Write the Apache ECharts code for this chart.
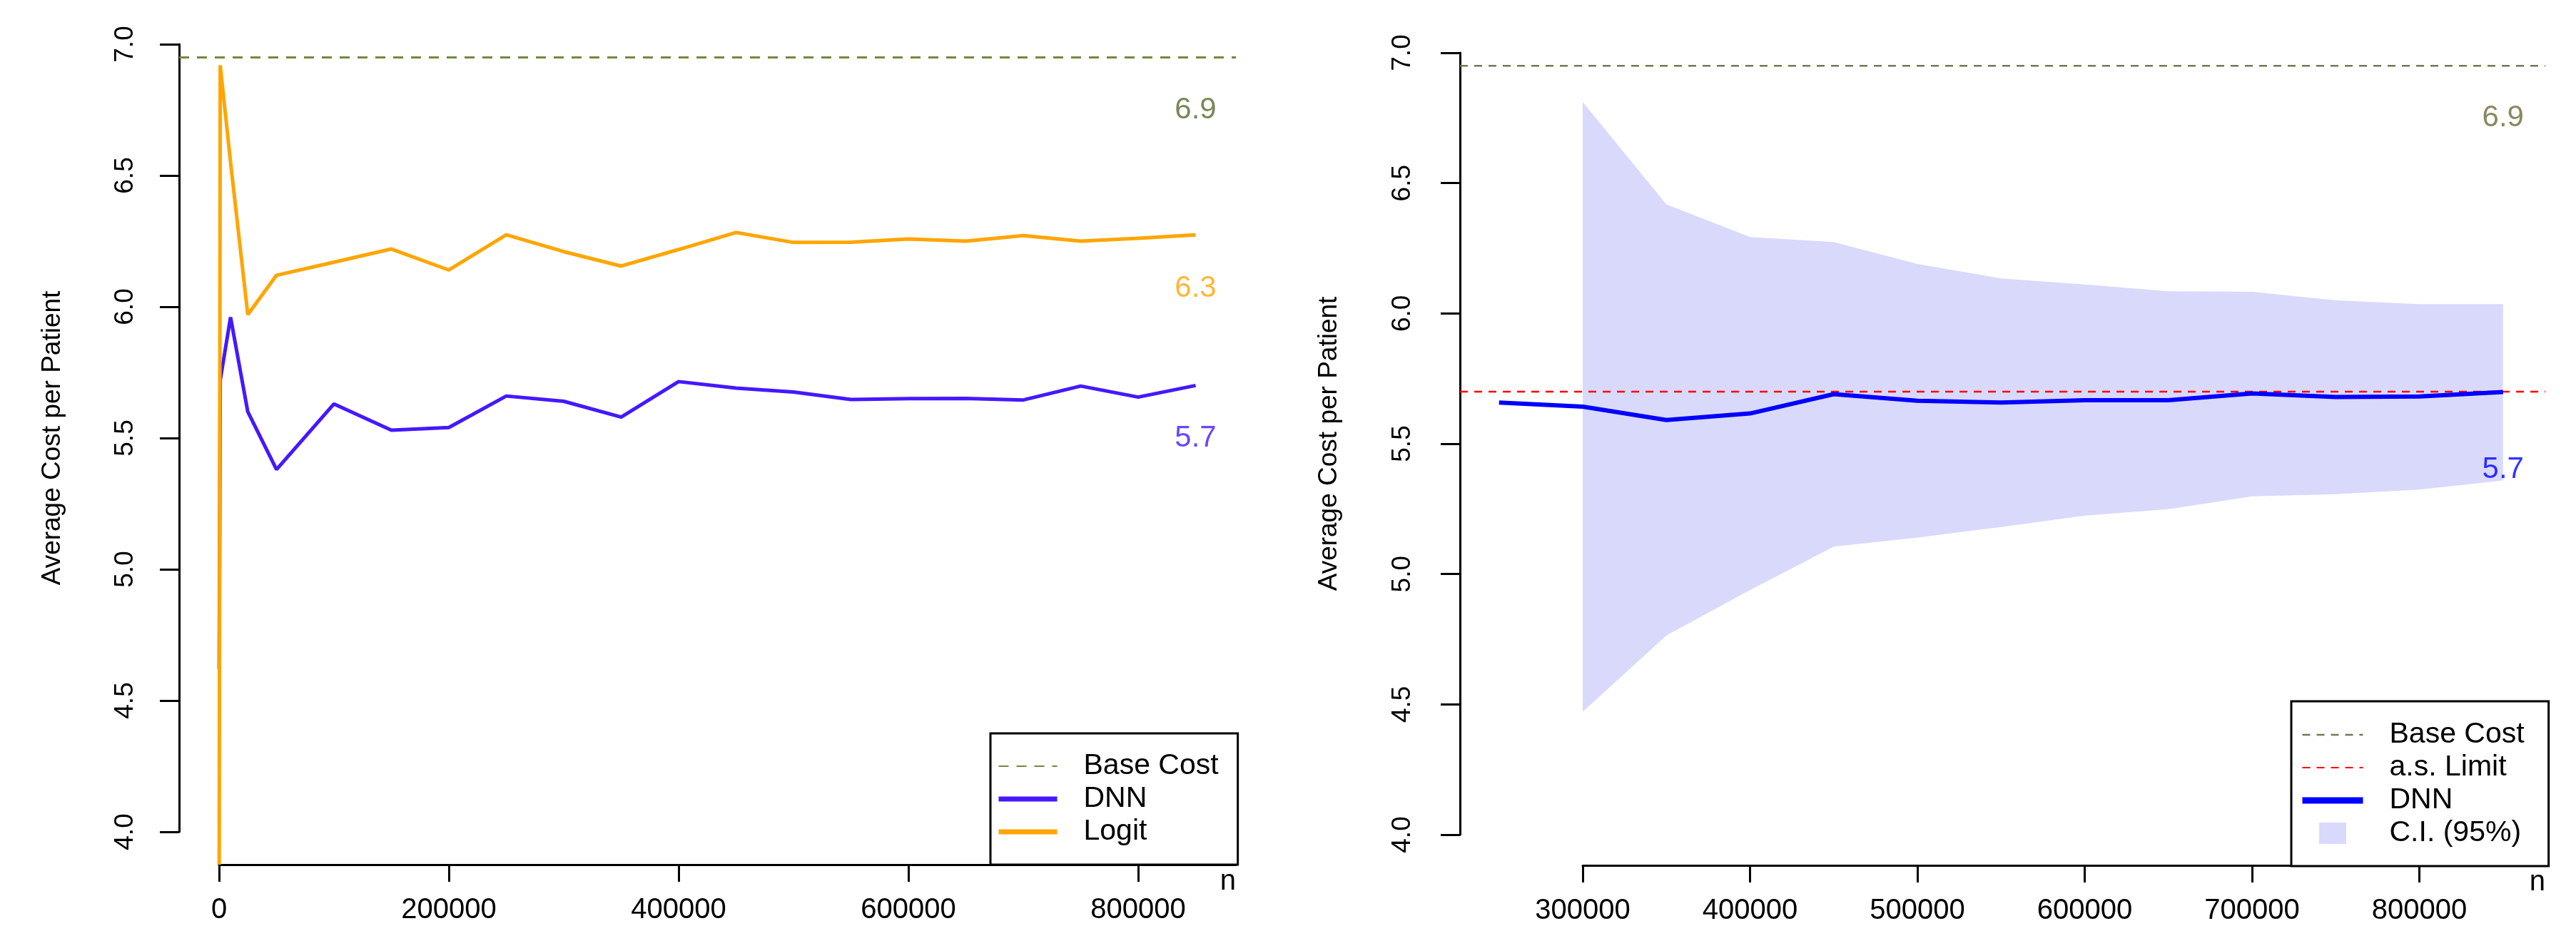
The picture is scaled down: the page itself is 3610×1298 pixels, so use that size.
<!DOCTYPE html>
<html>
<head>
<meta charset="utf-8">
<script src="https://cdn.jsdelivr.net/npm/echarts@6/dist/echarts.min.js"></script>
<style>
  html, body { margin: 0; padding: 0; background: #fff; }
  #main { width: 3610px; height: 1298px; }
</style>
</head>
<body>
<div id="main"></div>
<script>
// left panel: running average cost per patient, DNN vs Logit
var nLeft = [100, 1000, 10000, 25000, 50000, 100000, 150000, 200000, 250000, 300000, 350000,
  400000, 450000, 500000, 550000, 600000, 650000, 700000, 750000, 800000, 850000]
var dnnLeft = [4.62, 5.72, 5.96, 5.60, 5.38, 5.63, 5.53, 5.54, 5.66, 5.64, 5.58,
  5.715, 5.69, 5.675, 5.647, 5.65, 5.651, 5.645, 5.698, 5.656, 5.70]
var logitLeft = [3.875, 6.92, 6.55, 5.97, 6.12, 6.17, 6.22, 6.14, 6.274, 6.21, 6.155,
  6.218, 6.283, 6.245, 6.246, 6.258, 6.25, 6.271, 6.25, 6.261, 6.274]

// right panel: DNN with 95% confidence band
var nRight = [250000, 300000, 350000, 400000, 450000, 500000, 550000, 600000, 650000,
  700000, 750000, 800000, 850000]
var dnnRight = [5.658, 5.642, 5.591, 5.616, 5.690, 5.665, 5.658, 5.667, 5.667, 5.693, 5.679, 5.681, 5.698]
var nBand = [300000, 350000, 400000, 450000, 500000, 550000, 600000, 650000, 700000, 750000, 800000, 850000]
var ciUpper = [6.811, 6.418, 6.293, 6.274, 6.190, 6.134, 6.111, 6.085, 6.083, 6.050, 6.036, 6.036]
var ciLower = [4.471, 4.764, 4.939, 5.105, 5.140, 5.180, 5.224, 5.249, 5.298, 5.306, 5.324, 5.359]

var baseCost = 6.95
var asLimit = 5.70

var xTicksLeft = [0, 200000, 400000, 600000, 800000]
var xTicksRight = [300000, 400000, 500000, 600000, 700000, 800000]

// value annotations near the right end of each panel
var noteN = 850000
var noteTextLeft = ['6.9', '6.3', '5.7']
var noteYLeft = [6.75, 6.07, 5.50]
var noteTextRight = ['6.9', '5.7']
var noteYRight = [6.75, 5.40]

// axis extents of the plotting regions (R-style extended ranges)
var lxMin = -34783, lxMax = 885093, lyMin = 3.875
var rxMin = 226652, rxMax = 875267, ryMin = 3.882

var FONT = "'Liberation Sans', Arial, Helvetica, sans-serif"
var cLeftDnn = '#4518ff'
var cOrange = '#ffa500'
var cBaseL = '#6e8b3d'
var cBaseR = '#6f7a55'
var cBand = '#d9d9fc'

function pairs(xs, ys) {
  return xs.map(function (x, i) { return [x, ys[i]] })
}

var hiddenAxis = function (grid, min, max) {
  return { gridIndex: grid, type: 'value', show: false, min: min, max: max }
}

var yAxisVisible = function (grid, margin, gap) {
  return {
    gridIndex: grid, type: 'value', min: 4, max: 7, interval: 0.5, position: 'left',
    axisLine: { show: true, lineStyle: { color: '#000', width: 3 } },
    axisTick: { show: true, length: 27, lineStyle: { color: '#000', width: 3 } },
    axisLabel: { rotate: 90, margin: margin, fontSize: 37, color: '#000', fontFamily: FONT,
      formatter: function (v) { return v.toFixed(1) } },
    splitLine: { show: false },
    name: 'Average Cost per Patient', nameLocation: 'middle', nameRotate: 90, nameGap: gap,
    nameTextStyle: { fontSize: 37, color: '#000', fontFamily: FONT }
  }
}

var xAxisVisible = function (grid, min, max, ticks) {
  return {
    gridIndex: grid, type: 'value', min: min, max: max, position: 'bottom',
    axisLine: { show: true, lineStyle: { color: '#000', width: 3 } },
    axisTick: { show: true, length: 24, customValues: ticks, lineStyle: { color: '#000', width: 3 } },
    axisLabel: { customValues: ticks, margin: 44, fontSize: 40, color: '#000', fontFamily: FONT,
      formatter: function (v) { return String(v) } },
    splitLine: { show: false },
    name: 'n', nameLocation: 'end', nameGap: 0,
    nameTextStyle: { fontSize: 40, color: '#000', fontFamily: FONT, align: 'right',
      verticalAlign: 'top', padding: [4, 0, 0, 0] }
  }
}

var noteSeries = function (xi, texts, ys, colors) {
  return {
    type: 'scatter', xAxisIndex: xi, yAxisIndex: xi, symbol: 'circle', symbolSize: 1,
    itemStyle: { color: 'rgba(0,0,0,0)' }, silent: true,
    data: texts.map(function (t, i) {
      return { value: [noteN, ys[i]], name: t,
        label: { show: true, position: 'inside', formatter: t, color: colors[i],
          fontSize: 42, fontFamily: FONT } }
    })
  }
}

var bandData = nBand.map(function (n, i) { return [n, ciLower[i], ciUpper[i]] })

var legendText = { fontSize: 41, color: '#000', fontFamily: FONT, lineHeight: 46, padding: [0, 0, 0, 32] }

var option = {
  animation: false,
  backgroundColor: '#fff',
  textStyle: { fontFamily: FONT },
  grid: [
    { left: 251, top: 62, width: 10, height: 1104, outerBoundsMode: 'none' },
    { left: 307, top: 1112, width: 1425, height: 100, outerBoundsMode: 'none' },
    { left: 251, top: 62, width: 1481, height: 1150, outerBoundsMode: 'none' },
    { left: 2046, top: 74, width: 10, height: 1096, outerBoundsMode: 'none' },
    { left: 2218, top: 1113, width: 1349, height: 100, outerBoundsMode: 'none' },
    { left: 2046, top: 74, width: 1521, height: 1139, outerBoundsMode: 'none' }
  ],
  xAxis: [
    hiddenAxis(0, 0, 1),
    xAxisVisible(1, 0, lxMax, xTicksLeft),
    hiddenAxis(2, lxMin, lxMax),
    hiddenAxis(3, 0, 1),
    xAxisVisible(4, 300000, rxMax, xTicksRight),
    hiddenAxis(5, rxMin, rxMax)
  ],
  yAxis: [
    yAxisVisible(0, 57, 159),
    hiddenAxis(1, 0, 1),
    hiddenAxis(2, lyMin, 7),
    yAxisVisible(3, 62, 165),
    hiddenAxis(4, 0, 1),
    hiddenAxis(5, ryMin, 7)
  ],
  legend: [
    {
      data: [
        { name: 'Base Cost' },
        { name: 'DNN', lineStyle: { width: 7 } },
        { name: 'Logit', lineStyle: { width: 7 } }
      ],
      orient: 'vertical', left: 1388, top: 1028, padding: [23, 27, 23, 8],
      itemGap: 0, itemWidth: 82, itemHeight: 30,
      borderColor: '#000', borderWidth: 3, backgroundColor: '#fff',
      itemStyle: { opacity: 0 },
      selectedMode: false, textStyle: legendText
    },
    {
      data: [
        { name: 'Base Cost', lineStyle: { color: cBaseR, width: 2.5, type: [11, 9] } },
        { name: 'a.s. Limit' },
        { name: 'DNN', lineStyle: { color: '#0000ff', width: 9 } },
        { name: 'C.I. (95%)', icon: 'path://M0,0L38,0L38,30L0,30Z',
          itemStyle: { opacity: 1, color: cBand } }
      ],
      orient: 'vertical', left: 3211, top: 983, padding: [24, 34, 23, 11],
      itemGap: 0, itemWidth: 85, itemHeight: 30,
      borderColor: '#000', borderWidth: 3, backgroundColor: '#fff',
      itemStyle: { opacity: 0 },
      selectedMode: false, textStyle: legendText
    }
  ],
  series: [
    // ---- left panel
    {
      name: 'Base Cost', type: 'line', xAxisIndex: 2, yAxisIndex: 2, symbol: 'none',
      data: [[lxMin, baseCost], [lxMax, baseCost]],
      lineStyle: { color: cBaseL, width: 3, type: [14, 11] }, itemStyle: { color: cBaseL }
    },
    {
      name: 'DNN', type: 'line', xAxisIndex: 2, yAxisIndex: 2, symbol: 'none', clip: false,
      data: pairs(nLeft, dnnLeft),
      lineStyle: { color: cLeftDnn, width: 5 }, itemStyle: { color: cLeftDnn }
    },
    {
      name: 'Logit', type: 'line', xAxisIndex: 2, yAxisIndex: 2, symbol: 'none', clip: false,
      data: pairs(nLeft, logitLeft),
      lineStyle: { color: cOrange, width: 5 }, itemStyle: { color: cOrange }
    },
    noteSeries(2, noteTextLeft, noteYLeft, ['#556b2f', cOrange, cLeftDnn]),
    // ---- right panel
    {
      name: 'C.I. (95%)', type: 'custom', xAxisIndex: 5, yAxisIndex: 5, silent: true,
      itemStyle: { color: cBand },
      encode: { x: 0, y: [1, 2] },
      data: bandData,
      renderItem: function (params, api) {
        if (params.dataIndex !== 0) return
        var upper = bandData.map(function (d) { return api.coord([d[0], d[2]]) })
        var lower = bandData.map(function (d) { return api.coord([d[0], d[1]]) }).reverse()
        return { type: 'polygon', shape: { points: upper.concat(lower) }, style: { fill: cBand } }
      }
    },
    {
      name: 'Base Cost', type: 'line', xAxisIndex: 5, yAxisIndex: 5, symbol: 'none',
      data: [[rxMin, baseCost], [rxMax, baseCost]],
      lineStyle: { color: cBaseR, width: 2.5, type: [11, 9] }, itemStyle: { color: cBaseR }
    },
    {
      name: 'a.s. Limit', type: 'line', xAxisIndex: 5, yAxisIndex: 5, symbol: 'none',
      data: [[rxMin, asLimit], [rxMax, asLimit]],
      lineStyle: { color: '#ff0000', width: 2.5, type: [11, 9] }, itemStyle: { color: '#ff0000' }
    },
    {
      name: 'DNN', type: 'line', xAxisIndex: 5, yAxisIndex: 5, symbol: 'none',
      data: pairs(nRight, dnnRight),
      lineStyle: { color: '#0000ff', width: 6 }, itemStyle: { color: '#0000ff' }
    },
    noteSeries(5, noteTextRight, noteYRight, ['#6b6a3a', '#0000ff'])
  ]
}

var myChart = echarts.init(document.getElementById('main'))
myChart.setOption(option)
</script>
</body>
</html>
